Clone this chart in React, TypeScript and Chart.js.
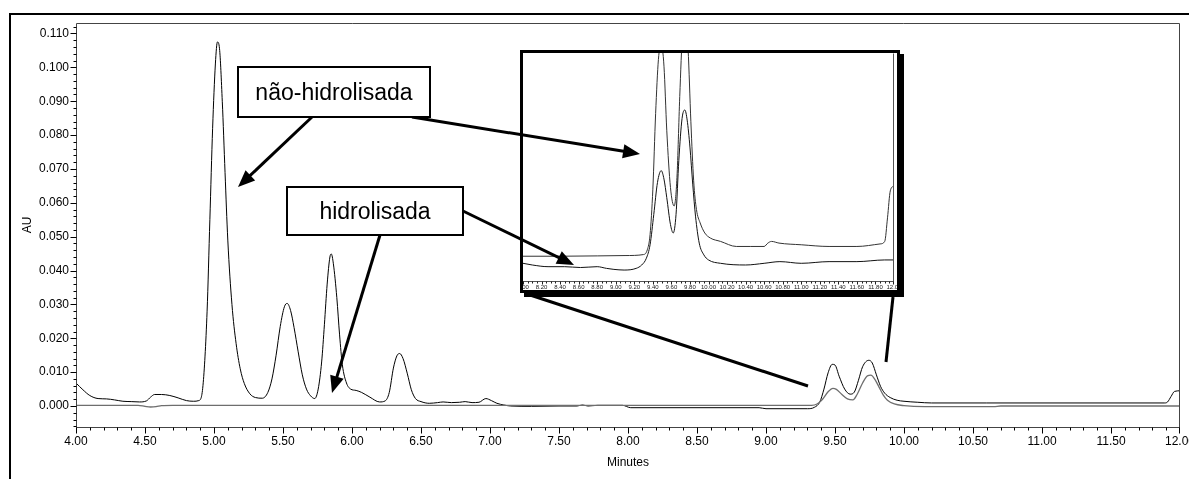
import React, { useEffect, useRef } from 'react';
import { Chart, registerables } from 'chart.js';

Chart.register(...registerables);

const FONT = "'Liberation Sans', Arial, Helvetica, sans-serif";

// Não-hidrolisada trace: retention time (min) and absorbance (AU)
const naoHidrolisadaTime = [
  4.0, 4.05, 4.1, 4.16, 4.22, 4.28, 4.34, 4.4, 4.46, 4.51, 4.54, 4.57, 4.62, 4.68, 4.74, 4.8, 4.85, 4.89,
  4.92, 4.95, 4.97, 4.99, 5.01, 5.025, 5.04, 5.06, 5.08, 5.1, 5.13, 5.16, 5.19, 5.22, 5.26, 5.3, 5.35,
  5.39, 5.42, 5.45, 5.48, 5.51, 5.53, 5.555, 5.58, 5.61, 5.64, 5.67, 5.7, 5.73, 5.755, 5.78, 5.8, 5.82,
  5.84, 5.85, 5.865, 5.89, 5.91, 5.93, 5.96, 5.99, 6.03, 6.07, 6.13, 6.2, 6.24, 6.27, 6.3, 6.325, 6.345,
  6.37, 6.4, 6.43, 6.46, 6.5, 6.56, 6.62, 6.66, 6.72, 6.78, 6.82, 6.87, 6.92, 6.97, 7.01, 7.05, 7.1,
  7.15, 7.3, 7.5, 7.63, 7.67, 7.71, 7.78, 7.96, 8.02, 8.5, 8.95, 9.0, 9.3, 9.35, 9.39, 9.42, 9.45, 9.48,
  9.5, 9.53, 9.57, 9.61, 9.64, 9.67, 9.7, 9.745, 9.77, 9.8, 9.83, 9.86, 9.9, 9.95, 10.0, 10.1, 10.2,
  10.6, 11.0, 11.5, 11.89, 11.91, 11.935, 11.96, 12.0,
];
const naoHidrolisadaAU = [
  0.0068, 0.0048, 0.0031, 0.0022, 0.0021, 0.0018, 0.0014, 0.0013, 0.0012, 0.0015, 0.0026, 0.0034, 0.0034,
  0.0031, 0.0024, 0.0016, 0.0014, 0.0016, 0.006, 0.028, 0.055, 0.082, 0.101, 0.1075, 0.1055, 0.09, 0.069,
  0.049, 0.03, 0.0185, 0.011, 0.0066, 0.0036, 0.0025, 0.0023, 0.004, 0.008, 0.015, 0.0235, 0.0293,
  0.0303, 0.0282, 0.0232, 0.016, 0.0092, 0.005, 0.003, 0.0022, 0.005, 0.013, 0.024, 0.036, 0.044,
  0.0449, 0.042, 0.032, 0.021, 0.0122, 0.0068, 0.005, 0.0046, 0.004, 0.0026, 0.0012, 0.0015, 0.004,
  0.0112, 0.0148, 0.0155, 0.014, 0.0097, 0.0048, 0.0022, 0.0013, 0.0008, 0.001, 0.0012, 0.001, 0.0011,
  0.0013, 0.001, 0.0011, 0.0022, 0.0016, 0.0008, 0.0003, 0.0, -0.0001, 0.0, 0.0, 0.0003, 0.0, 0.0002,
  0.0002, -0.0005, -0.0005, -0.0005, -0.0008, -0.0008, -0.0004, 0.0012, 0.005, 0.0098, 0.0123, 0.0121,
  0.0088, 0.005, 0.0035, 0.0041, 0.0076, 0.0116, 0.0135, 0.0127, 0.0092, 0.0058, 0.0038, 0.0025, 0.0017,
  0.0014, 0.0011, 0.0009, 0.0009, 0.0009, 0.0009, 0.0009, 0.0012, 0.0028, 0.0043, 0.0045,
];

// Hidrolisada trace
const hidrolisadaTime = [
  4.0, 4.45, 4.5, 4.54, 4.58, 4.62, 4.7, 9.33, 9.37, 9.41, 9.45, 9.485, 9.51, 9.55, 9.59, 9.63, 9.66,
  9.7, 9.735, 9.76, 9.79, 9.82, 9.85, 9.88, 9.93, 10.0, 10.15, 10.65, 10.7, 12.0,
];
const hidrolisadaAU = [
  0.0002, 0.0002, -0.0001, -0.0003, -0.0002, 0.0001, 0.0002, 0.0002, 0.0006, 0.002, 0.0042, 0.0052,
  0.0049, 0.0034, 0.0021, 0.0018, 0.0034, 0.0068, 0.0089, 0.0091, 0.0078, 0.0055, 0.0032, 0.0017,
  0.0006, 0.0001, -0.0002, -0.0002, 0.0, 0.0,
];

// Detail window, 8–12 min
const detalheNaoTime = [
  8.0, 8.4, 8.8, 9.1, 9.3, 9.34, 9.37, 9.4, 9.43, 9.46, 9.49, 9.52, 9.55, 9.59, 9.63, 9.66, 9.69, 9.72,
  9.75, 9.78, 9.81, 9.84, 9.87, 9.91, 9.96, 10.02, 10.13, 10.3, 10.45, 10.6, 10.64, 10.68, 10.76, 11.0,
  11.3, 11.6, 11.85, 11.9, 11.93, 11.96, 12.0,
];
const detalheNaoAU = [
  0.00052, 0.00052, 0.00054, 0.00056, 0.00062, 0.0009, 0.0018, 0.0045, 0.009, 0.0122, 0.0131, 0.0118,
  0.008, 0.0046, 0.0035, 0.0052, 0.01, 0.0138, 0.0148, 0.0128, 0.0085, 0.005, 0.0033, 0.0025, 0.0019,
  0.0016, 0.0014, 0.0011, 0.0011, 0.0011, 0.0013, 0.0014, 0.0013, 0.0012, 0.0011, 0.0011, 0.00125,
  0.0014, 0.0028, 0.0044, 0.0047,
];
const detalheHidTime = [
  8.0, 8.1, 8.27, 8.45, 8.62, 8.8, 8.9, 8.98, 9.09, 9.22, 9.28, 9.33, 9.37, 9.41, 9.45, 9.49, 9.52, 9.55,
  9.59, 9.62, 9.65, 9.68, 9.715, 9.745, 9.77, 9.8, 9.83, 9.86, 9.9, 9.95, 10.0, 10.13, 10.4, 10.6,
  10.77, 11.0, 11.3, 11.6, 11.9, 12.0,
];
const detalheHidAU = [
  0.0001, 0.0, -0.0001, -0.0001, -0.00015, -0.0001, -0.0002, -0.00026, -0.0003, -0.0002, 0.0, 0.0004,
  0.0012, 0.003, 0.0049, 0.0056, 0.0051, 0.004, 0.0024, 0.0019, 0.003, 0.0062, 0.0087, 0.0092, 0.0086,
  0.007, 0.0048, 0.0029, 0.0013, 0.0006, 0.0003, 0.0001, 0.0, 0.0001, 0.0002, 0.0001, 0.0002, 0.0002,
  0.0003, 0.0003,
];

// Axis tick values
const minuteTicks = [4, 4.5, 5, 5.5, 6, 6.5, 7, 7.5, 8, 8.5, 9, 9.5, 10, 10.5, 11, 11.5, 12];
const auTicks = [0, 0.01, 0.02, 0.03, 0.04, 0.05, 0.06, 0.07, 0.08, 0.09, 0.1, 0.11];
const detalheTicks = [
  8, 8.2, 8.4, 8.6, 8.8, 9, 9.2, 9.4, 9.6, 9.8, 10, 10.2, 10.4, 10.6, 10.8, 11, 11.2, 11.4, 11.6, 11.8, 12,
];

// Callout labels and their pointers (page pixels)
const calloutBoxes = [
  { label: 'não-hidrolisada', x: 238, y: 67, w: 192, h: 50 },
  { label: 'hidrolisada', x: 287, y: 187, w: 176, h: 48 },
];
const pointerArrows = [
  [312, 117, 238, 187],
  [412, 117, 640, 154],
  [380, 235, 332, 393],
  [463, 211, 574, 265],
];
const connectorLines = [
  [527, 294, 808, 386],
  [893, 297, 886, 362],
];

const toPoints = (xs: number[], ys: number[]) => xs.map((x, i) => ({ x, y: ys[i] }));

// Draws the axis frame plus major/minor tick marks through the chart scales
const axisFrame = {
  id: 'axisFrame',
  afterDraw(chart: any, _args: any, o: any) {
    const { ctx, chartArea: a, scales } = chart;
    const L = Math.round(a.left) + 0.5;
    const R = Math.round(a.right) - 0.5;
    const T = Math.round(a.top) + 0.5;
    const B = Math.round(a.bottom) + 0.5;
    ctx.save();
    ctx.lineWidth = 1;
    ctx.strokeStyle = o.frameColor;
    ctx.beginPath();
    if (o.sides.includes('left')) { ctx.moveTo(L, T); ctx.lineTo(L, B); }
    if (o.sides.includes('top')) { ctx.moveTo(L, T); ctx.lineTo(R, T); }
    if (o.sides.includes('right')) { ctx.moveTo(R, T); ctx.lineTo(R, B); }
    if (o.sides.includes('bottom')) { ctx.moveTo(L - 0.5, B); ctx.lineTo(R + 0.5, B); }
    ctx.stroke();

    ctx.strokeStyle = o.tickColor;
    ctx.beginPath();
    const xs = scales.x;
    const nx = Math.round((xs.max - xs.min) / o.xMinor);
    for (let i = 0; i <= nx; i++) {
      const px = Math.min(Math.round(xs.getPixelForValue(xs.min + i * o.xMinor)), Math.round(a.right) - 1) + 0.5;
      const len = i % o.xMajorEvery === 0 ? o.xMajorLen : o.xMinorLen;
      ctx.moveTo(px, B);
      ctx.lineTo(px, B + len);
    }
    if (o.yMinor) {
      const ys = scales.y;
      const start = Math.ceil(ys.min / o.yMinor - 1e-6);
      const end = Math.floor(ys.max / o.yMinor + 1e-6);
      for (let k = start; k <= end; k++) {
        const py = Math.round(ys.getPixelForValue(k * o.yMinor)) + 0.5;
        const len = k % o.yMajorEvery === 0 ? o.yMajorLen : o.yMinorLen;
        ctx.moveTo(L, py);
        ctx.lineTo(L - len, py);
      }
    }
    ctx.stroke();
    ctx.restore();
  },
};

function Arrow({ x1, y1, x2, y2 }: { x1: number; y1: number; x2: number; y2: number }) {
  const head = 17;
  const half = 7;
  const dx = x2 - x1;
  const dy = y2 - y1;
  const len = Math.hypot(dx, dy);
  const ux = dx / len;
  const uy = dy / len;
  const bx = x2 - ux * head;
  const by = y2 - uy * head;
  const px = -uy;
  const py = ux;
  return (
    <g>
      <line x1={x1} y1={y1} x2={bx + ux * 2} y2={by + uy * 2} stroke="#000" strokeWidth={3} />
      <polygon
        points={`${x2},${y2} ${bx + px * half},${by + py * half} ${bx - px * half},${by - py * half}`}
        fill="#000"
      />
    </g>
  );
}

export default function App() {
  const mainRef = useRef<HTMLCanvasElement>(null);
  const insetRef = useRef<HTMLCanvasElement>(null);

  useEffect(() => {
    const main = new Chart(mainRef.current as HTMLCanvasElement, {
      type: 'line',
      data: {
        datasets: [
          {
            label: 'hidrolisada',
            data: toPoints(hidrolisadaTime, hidrolisadaAU),
            borderColor: '#6e6e6e',
            borderWidth: 1.3,
            pointRadius: 0,
            cubicInterpolationMode: 'monotone',
          },
          {
            label: 'não-hidrolisada',
            data: toPoints(naoHidrolisadaTime, naoHidrolisadaAU),
            borderColor: '#000',
            borderWidth: 1,
            pointRadius: 0,
            cubicInterpolationMode: 'monotone',
          },
        ],
      },
      options: {
        animation: false,
        responsive: false,
        events: [],
        layout: { padding: { left: 0, right: 9, top: 23, bottom: 0 } },
        plugins: {
          legend: { display: false },
          tooltip: { enabled: false },
          axisFrame: {
            sides: ['left', 'top', 'right', 'bottom'],
            frameColor: '#444',
            tickColor: '#000',
            xMinor: 0.1,
            xMajorEvery: 5,
            xMajorLen: 6,
            xMinorLen: 3,
            yMinor: 0.002,
            yMajorEvery: 5,
            yMajorLen: 6,
            yMinorLen: 3,
          },
        } as any,
        scales: {
          x: {
            type: 'linear',
            min: 4,
            max: 12,
            afterBuildTicks: (s: any) => { s.ticks = minuteTicks.map((value) => ({ value })); },
            afterFit: (s: any) => { s.height = 52; s.paddingLeft = 0; s.paddingRight = 0; },
            grid: { display: false, drawTicks: false },
            border: { display: false },
            ticks: {
              color: '#000',
              padding: 7,
              maxRotation: 0,
              autoSkip: false,
              font: { family: FONT, size: 12 },
              callback: (v: any) => Number(v).toFixed(2),
            },
            title: {
              display: true,
              text: 'Minutes',
              color: '#000',
              font: { family: FONT, size: 12 },
              padding: { top: 0, bottom: 9 },
            },
          },
          y: {
            type: 'linear',
            min: -0.0062,
            max: 0.1131,
            afterBuildTicks: (s: any) => { s.ticks = auTicks.map((value) => ({ value })); },
            afterFit: (s: any) => { s.width = 76; s.paddingTop = 0; s.paddingBottom = 0; },
            grid: { display: false, drawTicks: false },
            border: { display: false },
            ticks: {
              color: '#000',
              padding: 7,
              autoSkip: false,
              font: { family: FONT, size: 12 },
              callback: (v: any) => Number(v).toFixed(3),
            },
            title: {
              display: true,
              text: 'AU',
              color: '#000',
              font: { family: FONT, size: 12 },
              padding: { top: 20, bottom: 0 },
            },
          },
        },
      },
      plugins: [axisFrame],
    } as any);

    const inset = new Chart(insetRef.current as HTMLCanvasElement, {
      type: 'line',
      data: {
        datasets: [
          {
            label: 'hidrolisada',
            data: toPoints(detalheHidTime, detalheHidAU),
            borderColor: '#111',
            borderWidth: 1,
            pointRadius: 0,
            cubicInterpolationMode: 'monotone',
          },
          {
            label: 'não-hidrolisada',
            data: toPoints(detalheNaoTime, detalheNaoAU),
            borderColor: '#333',
            borderWidth: 1,
            pointRadius: 0,
            cubicInterpolationMode: 'monotone',
          },
        ],
      },
      options: {
        animation: false,
        responsive: false,
        events: [],
        layout: { padding: { left: 0, right: 3, top: 0, bottom: 0 } },
        plugins: {
          legend: { display: false },
          tooltip: { enabled: false },
          axisFrame: {
            sides: ['right', 'bottom'],
            frameColor: '#555',
            tickColor: '#222',
            xMinor: 0.05,
            xMajorEvery: 4,
            xMajorLen: 3,
            xMinorLen: 2,
          },
        } as any,
        scales: {
          x: {
            type: 'linear',
            min: 8,
            max: 12,
            afterBuildTicks: (s: any) => { s.ticks = detalheTicks.map((value) => ({ value })); },
            afterFit: (s: any) => { s.height = 9; s.paddingLeft = 0; s.paddingRight = 0; },
            grid: { display: false, drawTicks: false },
            border: { display: false },
            ticks: {
              color: '#222',
              padding: 3,
              maxRotation: 0,
              autoSkip: false,
              font: { family: FONT, size: 6 },
              callback: (v: any) => Number(v).toFixed(2),
            },
          },
          y: { type: 'linear', min: -0.00095, max: 0.012583, display: false },
        },
      },
      plugins: [axisFrame],
    } as any);

    return () => {
      main.destroy();
      inset.destroy();
    };
  }, []);

  return (
    <div
      style={{
        position: 'absolute',
        left: 0,
        top: 0,
        width: 1189,
        height: 479,
        overflow: 'hidden',
        background: '#fff',
        fontFamily: FONT,
      }}
    >
      <div
        style={{
          position: 'absolute',
          left: 9,
          top: 13,
          width: 1300,
          height: 600,
          borderTop: '2px solid #000',
          borderLeft: '2px solid #000',
        }}
      />
      <canvas ref={mainRef} width={1189} height={479} style={{ position: 'absolute', left: 0, top: 0 }} />
      <div
        style={{
          position: 'absolute',
          left: 520,
          top: 50,
          width: 380,
          height: 243,
          boxSizing: 'border-box',
          border: '3px solid #000',
          boxShadow: '4px 4px 0 #000',
          background: '#fff',
        }}
      >
        <canvas ref={insetRef} width={374} height={237} style={{ display: 'block' }} />
      </div>
      <svg
        width={1189}
        height={479}
        style={{ position: 'absolute', left: 0, top: 0, pointerEvents: 'none' }}
      >
        {connectorLines.map(([x1, y1, x2, y2], i) => (
          <line key={`c${i}`} x1={x1} y1={y1} x2={x2} y2={y2} stroke="#000" strokeWidth={3} />
        ))}
        {pointerArrows.map(([x1, y1, x2, y2], i) => (
          <Arrow key={`a${i}`} x1={x1} y1={y1} x2={x2} y2={y2} />
        ))}
        {calloutBoxes.map((b) => (
          <g key={b.label}>
            <rect x={b.x} y={b.y} width={b.w} height={b.h} fill="#fff" stroke="#000" strokeWidth={2} />
            <text
              x={b.x + b.w / 2}
              y={b.y + b.h / 2 + 8}
              textAnchor="middle"
              fontSize={23}
              fontFamily={FONT}
              fill="#000"
            >
              {b.label}
            </text>
          </g>
        ))}
      </svg>
    </div>
  );
}
